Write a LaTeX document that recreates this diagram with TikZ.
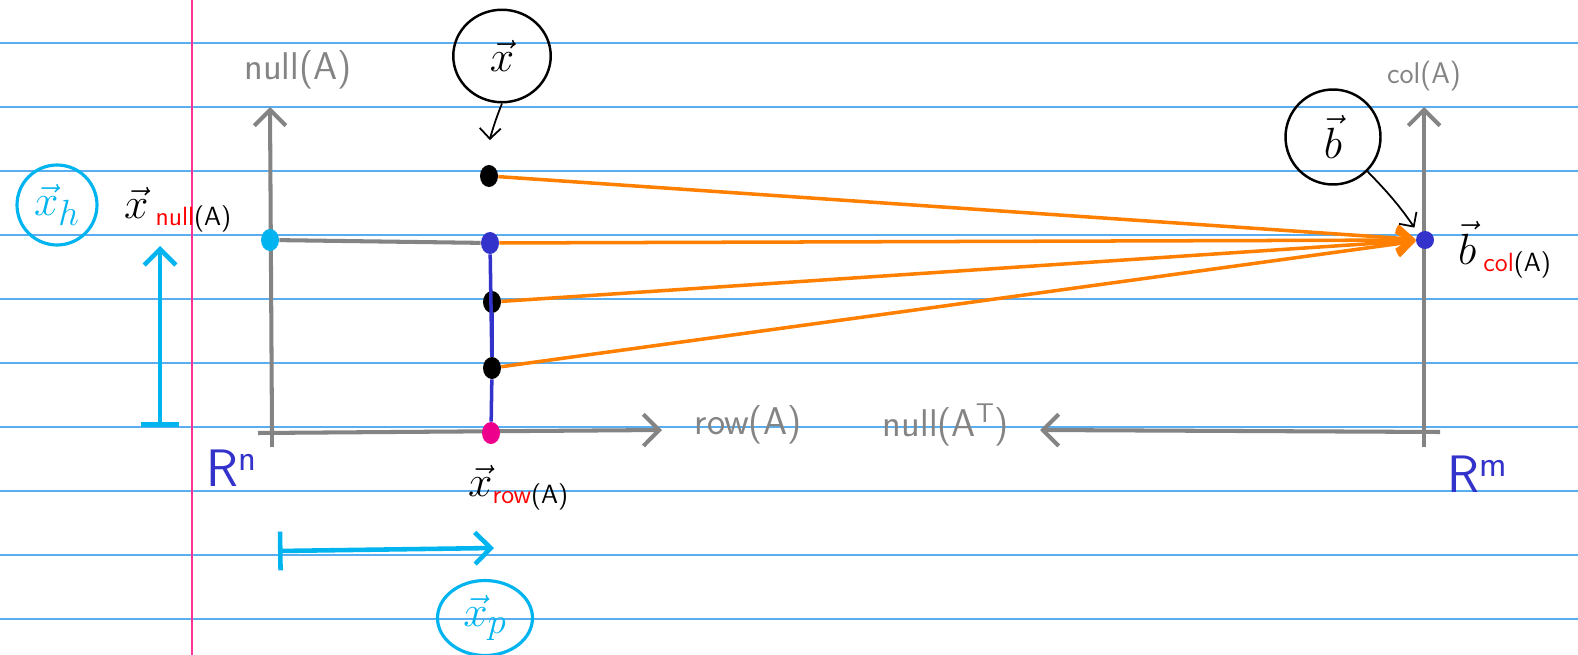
\documentclass[tikz,border=0pt]{standalone}
\usepackage{fontspec}
\usepackage{amsmath}
\usetikzlibrary{arrows.meta, positioning, shapes.geometric, calc}
\definecolor{ruleblue}{HTML}{5AAEF0}
\definecolor{marginpink}{HTML}{FF3399}
\definecolor{axisgray}{HTML}{848484}
\definecolor{penorange}{HTML}{FF8000}
\definecolor{pencyan}{HTML}{00B4F0}
\definecolor{penblue}{HTML}{3333CC}
\definecolor{penred}{HTML}{FF0000}
\newcommand{\subtag}[2]{\raisebox{-4pt}{\sffamily\fontsize{15}{17}\selectfont\textcolor{penred}{#1}#2}}

\begin{document}
\begin{tikzpicture}[x=0.02cm, y=-0.02cm,
  dot/.style={ellipse, inner sep=0pt, minimum width=0.36cm, minimum height=0.44cm, fill=black},
  axis/.style={axisgray, line width=2.3pt},
  axisarrow/.style={axis, -{Straight Barb[length=9pt, width=18pt]}},
  rayarrow/.style={penorange, line width=2pt, -{Straight Barb[length=9pt, width=14pt]}},
  graytext/.style={font=\sffamily\fontsize{22}{26}\selectfont, text=axisgray},
  spacetext/.style={font=\sffamily\fontsize{30}{34}\selectfont, text=penblue},
  vectext/.style={font=\fontsize{24}{28}\selectfont, anchor=west},
  callout/.style={draw, ellipse, line width=1.4pt, inner sep=0pt, font=\fontsize{30}{34}\selectfont},
  pointer/.style={black, line width=1pt, -{Straight Barb[length=6pt, width=12pt]}},
  cyanarrow/.style={pencyan, line width=2.6pt, {Bar[width=22pt]}-{Straight Barb[length=9pt, width=18pt]}}
]
\useasboundingbox (0,0) rectangle (1578,655);
\fill[white] (0,0) rectangle (1578,655);
\foreach \y in {43,107,...,619}
  \draw[ruleblue, line width=0.8pt] (0,\y) -- (1578,\y);
\draw[marginpink, line width=0.8pt] (192,0) -- (192,655);

\coordinate (lorigin) at (272,432);
\coordinate (ltop) at (270,107);
\coordinate (lright) at (662,430);
\coordinate (rorigin) at (1424,432);
\coordinate (rtop) at (1424,107);
\coordinate (rleft) at (1040,430);

\draw[axis] (272,447) -- (lorigin);
\draw[axisarrow] (lorigin) -- (ltop);
\draw[axisarrow] (258,433) -- (lright);
\draw[axis] (1424,447) -- (rorigin);
\draw[axisarrow] (rorigin) -- (rtop);
\draw[axisarrow] (1440,432) -- (rleft);

\node[graytext] (nullA) at (298,70) {null(A)};
\node[graytext] (rowA) at (748,425) {row(A)};
\node[graytext] (nullAT) at (946,425) {null(A$^{\mathsf{T}}$)};
\node[graytext, font=\sffamily\fontsize{17}{20}\selectfont] (colA) at (1424,76) {col(A)};
\node[spacetext] (rn) at (232,468) {R$^{\text{n}}$};
\node[spacetext] (rm) at (1478,474) {R$^{\text{m}}$};

\node[dot, fill=pencyan] (xh) at (270,240) {};
\node[dot] (x1) at (489,176) {};
\node[dot, fill=penblue] (x2) at (490,243) {};
\node[dot] (x3) at (492,302) {};
\node[dot] (x4) at (492,368) {};
\node[dot, fill=magenta] (xr) at (491,433) {};
\node[dot, fill=penblue, minimum width=0.36cm, minimum height=0.36cm] (b) at (1425,240) {};

\draw[axis] (xh) -- (x2);
\draw[penblue, line width=2pt] (x2) -- (x4) -- (xr);
\draw[penblue, line width=2pt] (x3) -- (x4);

\draw[rayarrow] (x1) -- (b);
\draw[rayarrow] (x2) -- (b);
\draw[rayarrow] (x3) -- (b);
\draw[rayarrow] (x4) -- (b);

\node[vectext] (xnull) at (118,210) {$\vec{x}$\,\subtag{null}{(A)}};
\node[vectext] (bcol) at (1452,250) {$\vec{b}$\,\subtag{col}{(A)}};
\node[vectext] (xrow) at (462,488) {$\vec{x}$\subtag{row}{(A)}};

\node[callout, minimum width=1.95cm, minimum height=1.85cm] (xc) at (502,56) {$\vec{x}$};
\node[callout, circle, minimum size=1.9cm] (bc) at (1333,137) {$\vec{b}$};
\node[callout, circle, pencyan, line width=1.8pt, minimum size=1.6cm] (xhc) at (57,205) {$\vec{x}_h$};
\node[callout, pencyan, line width=1.8pt, minimum width=1.9cm, minimum height=1.5cm] (xpc) at (485,618) {$\vec{x}_p$};

\draw[pointer, shorten >=14pt] (xc.south) to[bend right=10] (x1.north);
\draw[pointer, shorten >=4pt] (bc.south east) to[bend left=5] (b.north west);

\coordinate (hbase) at (160,427);
\coordinate (htip) at (160,246);
\coordinate (pbase) at (278,551);
\coordinate (ptip) at (494,548);
\draw[cyanarrow] (hbase) -- (htip);
\draw[cyanarrow] (pbase) -- (ptip);
\end{tikzpicture}
\end{document}
